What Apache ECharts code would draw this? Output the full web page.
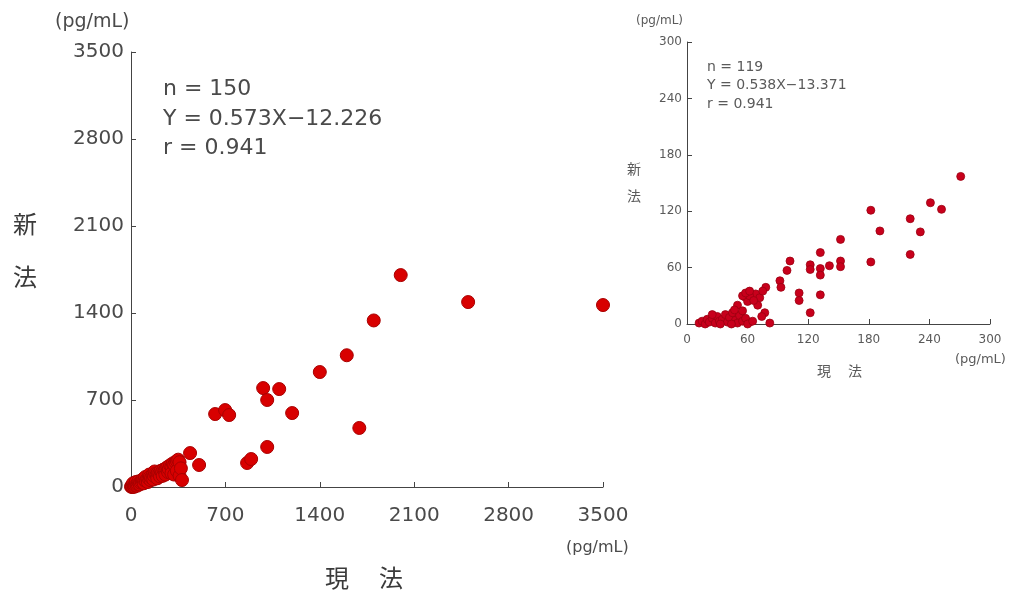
<!DOCTYPE html>
<html>
<head>
<meta charset="utf-8">
<script src="https://cdn.jsdelivr.net/npm/echarts@6/dist/echarts.min.js"></script>
<style>
  html, body { margin: 0; padding: 0; background: #fff; }
  #chart { width: 1010px; height: 591px; }
</style>
</head>
<body>
<div id="chart"></div>
<script>
// main plot: 現法 (x) vs 新法 (y), pg/mL
const mainTicks = [0, 700, 1400, 2100, 2800, 3500];
const mainPoints = [
  [0, 3], [5, 2], [8, 12], [12, 0], [10, 5], [15, 30], [20, 8], [25, 2], [30, 12], [35, 40],
  [40, 18], [45, 10], [50, 22], [55, 45], [60, 30], [65, 20], [70, 35], [80, 40], [85, 60], [90, 48],
  [95, 30], [100, 55], [105, 80], [110, 50], [120, 65], [125, 40], [130, 70], [135, 100], [140, 80], [145, 55],
  [150, 75], [160, 95], [165, 60], [170, 90], [175, 125], [180, 105], [190, 100], [195, 70], [200, 115], [210, 110],
  [215, 85], [220, 130], [230, 120], [235, 90], [240, 140], [250, 135], [255, 100], [260, 150], [270, 160], [275, 120],
  [280, 145], [290, 175], [300, 165], [300, 110], [310, 190], [320, 180], [320, 100], [330, 200], [340, 210], [340, 130],
  [350, 220], [360, 200], [360, 90], [370, 150], [378, 56], [438, 273], [505, 177],
  [624, 587], [698, 619], [728, 579], [861, 193], [891, 225], [980, 796], [1010, 700], [1010, 322],
  [1099, 788], [1195, 595], [1400, 925], [1600, 1060], [1693, 475], [1800, 1340], [2000, 1705],
  [2500, 1488], [3500, 1464]
];

// inset plot
const insetTicks = [0, 60, 120, 180, 240, 300];
const insetPoints = [
  [271, 157], [241, 129], [252, 122], [182, 121], [221, 112], [191, 99], [231, 98], [152, 90], [132, 76], [221, 74],
  [182, 66], [102, 67], [122, 63], [122, 58], [132, 59], [132, 52], [141, 62], [152, 67], [152, 61], [99, 57],
  [92, 46], [93, 39], [78, 39], [111, 33], [111, 25], [132, 31], [122, 12], [70, 29], [70, 20], [77, 12],
  [74, 8], [82, 1], [57, 29], [60, 24], [50, 20], [47, 11], [53, 10], [62, 2], [68, 32], [72, 28],
  [62, 30], [66, 25], [75, 35], [55, 30], [58, 33], [62, 35],
  [12, 1], [15, 3], [18, 0], [20, 5], [22, 2], [25, 6], [28, 1], [30, 8], [32, 3], [35, 5],
  [38, 10], [40, 2], [42, 7], [45, 12], [48, 4], [50, 1], [52, 9], [55, 3], [58, 6], [60, 0],
  [25, 10], [33, 0], [44, 0], [47, 15], [55, 14], [65, 3]
];

const NUMFONT = '"DejaVu Sans", sans-serif';
const CJK = '"Noto Sans CJK JP", sans-serif';
const chart = echarts.init(document.getElementById('chart'));

function valueAxis(grid, ticks, fs, color, margin) {
  return {
    type: 'value',
    gridIndex: grid,
    min: ticks[0],
    max: ticks[ticks.length - 1],
    interval: ticks[1] - ticks[0],
    splitLine: { show: false },
    axisLine: { show: true, lineStyle: { color: '#444', width: 1 } },
    axisTick: { show: true, inside: true, length: 5, lineStyle: { color: '#444' } },
    axisLabel: { fontFamily: NUMFONT, fontSize: fs, color: color, margin: margin, formatter: v => String(v) }
  };
}

chart.setOption({
  animation: false,
  backgroundColor: '#fff',
  grid: [
    { left: 131, top: 52, width: 472, height: 435 },
    { left: 687, top: 42, width: 303, height: 282 }
  ],
  xAxis: [
    valueAxis(0, mainTicks, 20, '#4a4a4a', 19),
    valueAxis(1, insetTicks, 12, '#5a5a5a', 10)
  ],
  yAxis: [
    valueAxis(0, mainTicks, 20, '#4a4a4a', 7),
    valueAxis(1, insetTicks, 12, '#5a5a5a', 5)
  ],
  series: [
    {
      type: 'scatter', xAxisIndex: 0, yAxisIndex: 0, data: mainPoints, symbolSize: 13,
      itemStyle: { color: '#d80000', borderColor: '#a80000', borderWidth: 1, opacity: 1 }
    },
    {
      type: 'scatter', xAxisIndex: 1, yAxisIndex: 1, data: insetPoints, symbolSize: 8,
      itemStyle: { color: '#c8001c', borderColor: '#9a0010', borderWidth: 0.8, opacity: 1 }
    }
  ],
  graphic: [
    // main plot texts
    { type: 'text', left: 55, top: 13, style: { text: '(pg/mL)', font: '19px ' + NUMFONT, fill: '#4a4a4a' } },
    { type: 'text', left: 163, top: 75, style: { text: 'n = 150\nY = 0.573X\u221212.226\nr = 0.941', font: '22px ' + NUMFONT, fill: '#4a4a4a', lineHeight: 29.5 } },
    { type: 'text', left: 13, top: 212, style: { text: '新', font: '24px ' + CJK, fill: '#3a3a3a' } },
    { type: 'text', left: 13, top: 265, style: { text: '法', font: '24px ' + CJK, fill: '#3a3a3a' } },
    { type: 'text', left: 566, top: 540, style: { text: '(pg/mL)', font: '16px ' + NUMFONT, fill: '#4a4a4a' } },
    { type: 'text', left: 325, top: 566, style: { text: '現', font: '24px ' + CJK, fill: '#3a3a3a' } },
    { type: 'text', left: 379, top: 566, style: { text: '法', font: '24px ' + CJK, fill: '#3a3a3a' } },
    // inset texts
    { type: 'text', left: 636, top: 15, style: { text: '(pg/mL)', font: '12px ' + NUMFONT, fill: '#5a5a5a' } },
    { type: 'text', left: 707, top: 58, style: { text: 'n = 119\nY = 0.538X\u221213.371\nr = 0.941', font: '14px ' + NUMFONT, fill: '#5a5a5a', lineHeight: 18.5 } },
    { type: 'text', left: 627, top: 162, style: { text: '新', font: '14px ' + CJK, fill: '#5a5a5a' } },
    { type: 'text', left: 627, top: 189, style: { text: '法', font: '14px ' + CJK, fill: '#5a5a5a' } },
    { type: 'text', left: 955, top: 353, style: { text: '(pg/mL)', font: '13px ' + NUMFONT, fill: '#5a5a5a' } },
    { type: 'text', left: 817, top: 364, style: { text: '現', font: '14px ' + CJK, fill: '#5a5a5a' } },
    { type: 'text', left: 848, top: 364, style: { text: '法', font: '14px ' + CJK, fill: '#5a5a5a' } }
  ]
});
</script>
</body>
</html>
